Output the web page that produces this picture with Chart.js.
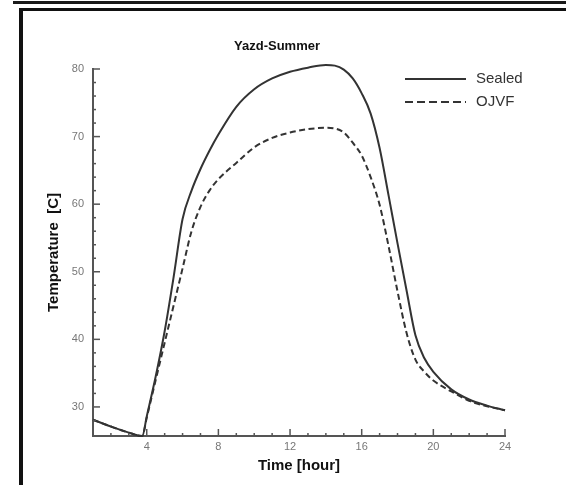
<!DOCTYPE html>
<html>
<head>
<meta charset="utf-8">
<script src="https://cdn.jsdelivr.net/npm/chart.js@4/dist/chart.umd.min.js"></script>
<style>
  html, body { margin: 0; padding: 0; background: #fff; }
  #wrap { position: relative; width: 566px; height: 485px; overflow: hidden; }
  #chart { position: absolute; left: 0; top: 0; }
  .topline { position: absolute; left: 13px; right: 0; top: 1px; height: 3px; background: #1a1a1a; }
  .frame { position: absolute; left: 19px; top: 8px; right: -4px; bottom: -4px;
           border-left: 4px solid #111; border-top: 3px solid #111; }
</style>
</head>
<body>
<div id="wrap">
  <canvas id="chart" width="566" height="485"></canvas>
  <div class="topline"></div>
  <div class="frame"></div>
</div>
<script>
const hours = [1, 2, 3, 3.75, 4, 4.5, 5, 5.5, 6, 6.5, 7, 7.5, 8, 9, 10, 11, 12, 13, 14, 14.5,
  15, 15.5, 16, 16.5, 17, 17.5, 18, 18.5, 19, 19.5, 20, 21, 22, 23, 24];
const sealed = [28.1, 27.1, 26.2, 25.7, 28.6, 34.5, 41.2, 49.2, 57.8, 62.0, 65.2, 67.9, 70.3, 74.4,
  77.0, 78.6, 79.6, 80.2, 80.6, 80.5, 79.9, 78.6, 76.4, 73.4, 68.3, 61.3, 54.2, 47.3, 40.6, 37.2,
  35.2, 32.6, 31.1, 30.2, 29.5];
const ojvf = [28.1, 27.1, 26.2, 25.7, 28.4, 34.0, 39.5, 45.0, 50.5, 56.0, 59.6, 62.0, 63.7, 66.1,
  68.4, 69.8, 70.6, 71.1, 71.3, 71.2, 70.6, 69.1, 67.2, 64.0, 59.9, 53.8, 47.1, 41.0, 37.0, 35.2,
  33.9, 32.3, 30.9, 30.1, 29.5];
const seriesNames = ["Sealed", "OJVF"];
const xTickLabels = [4, 8, 12, 16, 20, 24];
const yTickLabels = [30, 40, 50, 60, 70, 80];

const lineColor = "#333";
const axisColor = "#555";

const toPoints = (vals) => hours.map((h, i) => ({ x: h, y: vals[i] }));

// inward tick marks, major + minor
const tickMarks = {
  id: "tickMarks",
  afterDraw(chart) {
    const { ctx, chartArea, scales } = chart;
    ctx.save();
    ctx.strokeStyle = axisColor;
    ctx.lineWidth = 1.5;
    scales.x.ticks.forEach((t) => {
      if (!Number.isInteger(t.value)) return;
      const px = scales.x.getPixelForValue(t.value);
      const len = xTickLabels.includes(t.value) ? 7 : 3;
      ctx.beginPath();
      ctx.moveTo(px, chartArea.bottom);
      ctx.lineTo(px, chartArea.bottom - len);
      ctx.stroke();
    });
    scales.y.ticks.forEach((t) => {
      if (!Number.isInteger(t.value) || t.value % 2 !== 0) return;
      const py = scales.y.getPixelForValue(t.value);
      const len = yTickLabels.includes(t.value) ? 7 : 3;
      ctx.beginPath();
      ctx.moveTo(chartArea.left, py);
      ctx.lineTo(chartArea.left + len, py);
      ctx.stroke();
    });
    ctx.restore();
  },
};

// legend drawn in the upper right of the plot
const lineLegend = {
  id: "lineLegend",
  afterDraw(chart) {
    const { ctx } = chart;
    ctx.save();
    ctx.font = "15px 'Liberation Sans', Arial, sans-serif";
    ctx.textBaseline = "middle";
    chart.data.datasets.forEach((ds, i) => {
      const y = 79 + i * 23;
      ctx.strokeStyle = ds.borderColor;
      ctx.lineWidth = 2;
      ctx.setLineDash(ds.borderDash && ds.borderDash.length ? [8, 4] : []);
      ctx.beginPath();
      ctx.moveTo(405, y);
      ctx.lineTo(466, y);
      ctx.stroke();
      ctx.setLineDash([]);
      ctx.fillStyle = "#333";
      ctx.fillText(ds.label, 476, y);
    });
    ctx.restore();
  },
};

new Chart(document.getElementById("chart"), {
  type: "line",
  data: {
    datasets: [
      {
        label: seriesNames[0],
        data: toPoints(sealed),
        borderColor: lineColor,
        borderWidth: 2,
        pointRadius: 0,
        cubicInterpolationMode: "monotone",
        clip: false,
      },
      {
        label: seriesNames[1],
        data: toPoints(ojvf),
        borderColor: lineColor,
        borderWidth: 2,
        borderDash: [6, 3.5],
        pointRadius: 0,
        cubicInterpolationMode: "monotone",
        clip: false,
      },
    ],
  },
  options: {
    responsive: false,
    animation: false,
    layout: { padding: { left: 49, right: 61, top: 0, bottom: 0 } },
    plugins: {
      legend: { display: false },
      tooltip: { enabled: false },
      title: {
        display: true,
        text: "Yazd-Summer",
        color: "#111",
        font: { family: "'Liberation Sans', Arial, sans-serif", size: 13, weight: "bold", lineHeight: 1.2 },
        padding: { top: 39, bottom: 14.4 },
      },
    },
    scales: {
      x: {
        type: "linear",
        min: 1,
        max: 24,
        afterFit: (s) => { s.height = 49; },
        border: { display: true, color: axisColor, width: 2 },
        grid: { display: false, drawTicks: false },
        ticks: {
          stepSize: 1,
          autoSkip: false,
          maxRotation: 0,
          padding: 4,
          color: "#777",
          font: { family: "'Liberation Sans', Arial, sans-serif", size: 11 },
          callback: (v) => (xTickLabels.includes(v) ? String(v) : ""),
        },
        title: {
          display: true,
          text: "Time [hour]",
          color: "#111",
          font: { family: "'Liberation Sans', Arial, sans-serif", size: 15, weight: "bold", lineHeight: 1.2 },
          padding: { top: 0, bottom: 10 },
        },
      },
      y: {
        min: 25.7,
        max: 80,
        afterFit: (s) => { s.width = 44; },
        border: { display: true, color: axisColor, width: 2 },
        grid: { display: false, drawTicks: false },
        ticks: {
          stepSize: 2,
          autoSkip: false,
          padding: 9,
          color: "#777",
          font: { family: "'Liberation Sans', Arial, sans-serif", size: 11 },
          callback: (v) => (yTickLabels.includes(v) ? String(v) : ""),
        },
        title: {
          display: true,
          text: "Temperature  [C]",
          color: "#111",
          font: { family: "'Liberation Sans', Arial, sans-serif", size: 15, weight: "bold", lineHeight: 1.2 },
          padding: { top: -4, bottom: 0 },
        },
      },
    },
  },
  plugins: [tickMarks, lineLegend],
});
</script>
</body>
</html>
